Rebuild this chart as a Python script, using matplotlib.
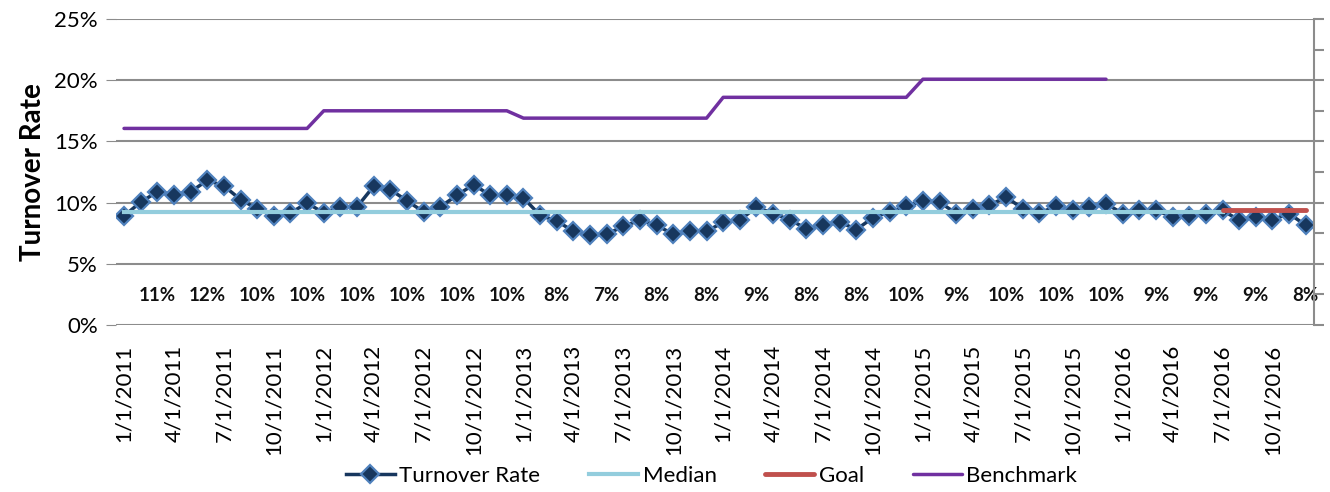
import numpy as np
import matplotlib
matplotlib.use("Agg")
import matplotlib.pyplot as plt
from matplotlib.ticker import FuncFormatter, MultipleLocator

plt.rcParams['font.family'] = ['Lato', 'DejaVu Sans']

# monthly categories, Jan 2011 .. Dec 2016
months = ["%d/1/%d" % (m, y) for y in range(2011, 2017) for m in range(1, 13)]

# turnover rate (%)
turnover = [8.9, 10.05, 10.87, 10.65, 10.87, 11.83, 11.36, 10.25, 9.5, 8.88, 9.15, 9.97,
            9.15, 9.65, 9.65, 11.34, 11.06, 10.15, 9.24, 9.65, 10.6, 11.47, 10.6, 10.6,
            10.38, 8.96, 8.5, 7.66, 7.33, 7.41, 8.07, 8.56, 8.15, 7.41, 7.66, 7.66,
            8.38, 8.56, 9.65, 9.1, 8.6, 7.87, 8.15, 8.42, 7.8, 8.77, 9.24, 9.7,
            10.14, 10.05, 9.1, 9.5, 9.78, 10.46, 9.5, 9.15, 9.7, 9.37, 9.65, 9.92,
            9.1, 9.37, 9.37, 8.83, 8.88, 9.1, 9.37, 8.56, 8.83, 8.6, 9.1, 8.15]

# median runs Jan 2011 .. Jul 2016, goal Jul 2016 .. Dec 2016
median_value = 9.24
median_last = 66
goal_value = 9.37
goal_first = 66

# benchmark, one level per year (2011..2015), none for 2016
benchmark_years = [16.06, 17.5, 16.9, 18.6, 20.08]

# quarterly labels along the bottom
quarter_labels = ["11%", "12%", "10%", "10%", "10%", "10%", "10%", "10%",
                  "8%", "7%", "8%", "8%", "9%", "8%", "8%", "10%",
                  "9%", "10%", "10%", "10%", "9%", "9%", "9%", "8%"]

n = len(months)
x = np.arange(n)
median = np.full(n, np.nan)
median[:median_last + 1] = median_value
goal = np.full(n, np.nan)
goal[goal_first:] = goal_value
benchmark = np.full(n, np.nan)
for k, v in enumerate(benchmark_years):
    benchmark[k * 12:(k + 1) * 12] = v

fig = plt.figure(figsize=(13.3, 4.92), dpi=100)
ax = fig.add_axes([0.087, 0.3394, 0.901, 0.622])

grid_c = '#8c8c8c'
for v in range(0, 30, 5):
    ax.axhline(v, color=grid_c, lw=1.5, zorder=0)

ax.plot(x, turnover, color='#17375E', lw=2.5, marker='D', ms=9.5,
        mfc='#17375E', mec='#4F81BD', mew=1.6, label='Turnover Rate', zorder=3)
ax.plot(x, median, color='#93CDDD', lw=3, label='Median', zorder=4)
ax.plot(x, goal, color='#C0504D', lw=3.5, solid_capstyle='round', label='Goal', zorder=4)
ax.plot(x, benchmark, color='#7030A0', lw=2.5, solid_capstyle='round', label='Benchmark', zorder=4)

for k, lab in enumerate(quarter_labels):
    ax.text(k * 3 + 2, 2.45, lab, ha='center', va='center', fontsize=13.5,
            fontweight='bold', color='#111111')

ax.set_xlim(-0.5, n - 0.5)
ax.set_ylim(0, 25)
ax.yaxis.set_major_locator(MultipleLocator(5))
ax.yaxis.set_major_formatter(FuncFormatter(lambda v, p: "%d%%" % v))
ax.set_xticks(x[::3])
ax.set_xticklabels(months[::3], rotation=90, fontsize=16)
ax.tick_params(axis='x', length=0, pad=14)
ax.tick_params(axis='y', length=7, color=grid_c, labelsize=16, pad=6)
for s in ['top', 'bottom', 'left', 'right']:
    ax.spines[s].set_visible(False)
ax.set_ylabel('Turnover Rate', fontsize=20, fontweight='bold', labelpad=6)

ax2 = ax.twinx()
ax2.set_ylim(0, 25)
ax2.yaxis.set_major_locator(MultipleLocator(2.5))
ax2.set_yticklabels([])
ax2.tick_params(axis='y', length=7, color=grid_c, width=1.5)
for s in ['top', 'bottom', 'left']:
    ax2.spines[s].set_visible(False)
ax2.spines['right'].set_color(grid_c)
ax2.spines['right'].set_linewidth(1.5)

fig.legend(*ax.get_legend_handles_labels(), loc='center', ncol=4,
           bbox_to_anchor=(0.535, 0.033), frameon=False, fontsize=16,
           handlelength=2.2, handletextpad=0.2, columnspacing=2.2)

fig.savefig('out.png', dpi=100)
